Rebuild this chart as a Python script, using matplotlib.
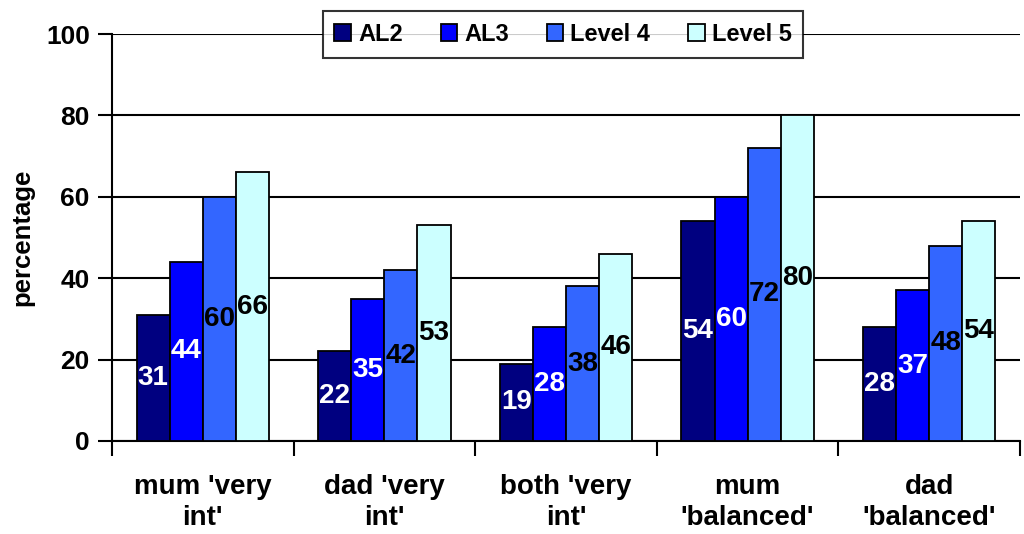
import matplotlib
matplotlib.use('Agg')
import matplotlib.pyplot as plt
import numpy as np

plt.rcParams['font.family'] = ['Liberation Sans', 'DejaVu Sans']
plt.rcParams['font.weight'] = 'bold'

categories = ["mum 'very\nint'", "dad 'very\nint'", "both 'very\nint'", "mum\n'balanced'", "dad\n'balanced'"]
series = ['AL2', 'AL3', 'Level 4', 'Level 5']
al2 = [31, 22, 19, 54, 28]
al3 = [44, 35, 28, 60, 37]
level4 = [60, 42, 38, 72, 48]
level5 = [66, 53, 46, 80, 54]
values = [al2, al3, level4, level5]

colors = ['#000080', '#0000FF', '#3366FF', '#CCFFFF']
label_colors = ['white', 'white', 'black', 'black']

fig = plt.figure(figsize=(10.24, 5.34), dpi=100)
ax = fig.add_axes([112 / 1024, 1 - 441 / 534, (1020 - 112) / 1024, (441 - 34) / 534])

x = np.arange(len(categories))
w = 0.182
for i, (name, vals) in enumerate(zip(series, values)):
    pos = x + (i - 1.5) * w
    bars = ax.bar(pos, vals, w, color=colors[i], edgecolor='black', linewidth=1.3,
                  label=name, zorder=3)
    for b, v in zip(bars, vals):
        ax.text(b.get_x() + b.get_width() / 2, v / 2, str(v), ha='center', va='center',
                color=label_colors[i], fontsize=20, fontweight='bold', zorder=4)

ax.set_xlim(-0.5, len(categories) - 0.5)
ax.set_ylim(0, 100)
ax.set_yticks(range(0, 101, 20))
ax.yaxis.grid(True, color='black', linewidth=1.5, zorder=0)
ax.set_xticks(np.arange(-0.5, len(categories), 1))
ax.set_xticklabels([])
ax.set_xticks(x, minor=True)
ax.set_xticklabels(categories, minor=True)
ax.tick_params(axis='x', which='minor', length=0, pad=24, labelsize=20)
ax.tick_params(axis='x', which='major', length=11, width=1.5, direction='out')
ax.tick_params(axis='y', length=10, width=1.5, labelsize=19, pad=6)
for lab in ax.get_yticklabels():
    lab.set_fontweight('bold')
for lab in ax.get_xticklabels(minor=True):
    lab.set_fontweight('bold')
    lab.set_linespacing(1.25)

for s in ['top', 'right']:
    ax.spines[s].set_visible(False)
ax.spines['left'].set_linewidth(1.5)
ax.spines['bottom'].set_linewidth(1.5)

ax.set_ylabel('percentage', fontsize=18.5, fontweight='bold')
ax.yaxis.set_label_coords(-(112 - 34) / 908, (441 - 237) / 407)

leg = ax.legend(loc='center', bbox_to_anchor=((563 - 112) / 908, 0.999),
                ncol=4, frameon=True, fancybox=False, fontsize=17, handlelength=0.7,
                handleheight=0.7, handletextpad=0.3, columnspacing=1.6, borderpad=0.5)
leg.get_frame().set_edgecolor('black')
leg.get_frame().set_linewidth(1.5)
leg.set_zorder(10)
for t in leg.get_texts():
    t.set_fontweight('bold')

fig.savefig('out.png', dpi=100)
